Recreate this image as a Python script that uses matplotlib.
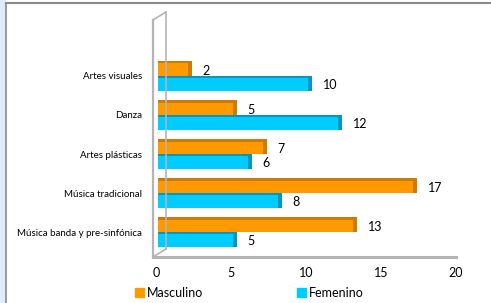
import matplotlib.pyplot as plt
from matplotlib.lines import Line2D
from matplotlib.patches import Patch, Rectangle
import numpy as np

# Datos
categorias = ['Artes visuales', 'Danza', 'Artes plásticas', 'Música tradicional',
              'Música banda y pre-sinfónica']
masculino = [2, 5, 7, 17, 13]
femenino = [10, 12, 6, 8, 5]
ticks_x = [0, 5, 10, 15, 20]

naranja = '#ff9900'
naranja_osc = '#cf7a00'
cian = '#00ccff'
cian_osc = '#0098c0'

plt.rcParams['font.family'] = ['Lato', 'DejaVu Sans']

W, H = 491, 303
fig = plt.figure(figsize=(W / 100, H / 100), dpi=100)

def px(x, y):
    return x / W, 1 - y / H

# Área de trazado
x0, x1 = 156, 456
y_top, y_bot = 12, 257
ax = fig.add_axes([x0 / W, 1 - y_bot / H, (x1 - x0) / W, (y_bot - y_top) / H])
ax.set_xlim(0, 20)
ax.set_ylim(4.64, -1.64)

pos = np.arange(len(categorias))
h = 0.38
pm = pos - 0.2
pf = pos + 0.19

# Barras con un poco de efecto 3D
ax.barh(pm, masculino, height=h, left=0.15, color=naranja, zorder=3)
ax.barh(pm - h / 2 + 0.035, masculino, height=0.07, left=0.15, color=naranja_osc, zorder=4)
ax.barh(pm, 0.22, height=h, left=np.array(masculino) + 0.15, color=naranja_osc, zorder=4)
ax.barh(pf, femenino, height=h, left=0.15, color=cian, zorder=3)
ax.barh(pf - h / 2 + 0.025, femenino, height=0.05, left=0.15, color=cian_osc, zorder=4)
ax.barh(pf, 0.22, height=h, left=np.array(femenino) + 0.15, color=cian_osc, zorder=4)

for p, v in zip(pm, masculino):
    ax.text(v + 1.1, p + 0.08, str(v), va='center', ha='left', fontsize=9)
for p, v in zip(pf, femenino):
    ax.text(v + 1.1, p + 0.05, str(v), va='center', ha='left', fontsize=9)

ax.set_yticks(pos)
ax.set_yticklabels(categorias, fontsize=7)
ax.set_xticks(ticks_x)
ax.set_xticklabels([str(t) for t in ticks_x], fontsize=9)
ax.tick_params(axis='y', length=0, pad=10)
ax.tick_params(axis='x', length=0, pad=7)
for s in ax.spines.values():
    s.set_visible(False)
ax.patch.set_alpha(0)

# Pared y piso
gris = '#b4b4b4'
for (xa, ya), (xb, yb), lw in [((153, 20), (153, 257), 1.6), ((166, 12), (166, 249), 1.2),
                               ((153, 20), (166, 12), 1.2), ((153, 257), (166, 249), 1.2)]:
    fig.add_artist(Line2D([px(xa, ya)[0], px(xb, yb)[0]], [px(xa, ya)[1], px(xb, yb)[1]],
                          color=gris, lw=lw, zorder=1))
fig.add_artist(Line2D([px(153, 257)[0], px(456, 257)[0]], [px(153, 257)[1]] * 2,
                      color=gris, lw=2.2, zorder=1))

# Bordes del marco
fig.add_artist(Rectangle((0, 0), 5 / W, 1, transform=fig.transFigure,
                         color='#dcedf9', zorder=0))
fig.add_artist(Line2D([5.5 / W] * 2, [0, 1 - 3 / H], color='#8a8a8a', lw=1.2))
fig.add_artist(Line2D([5.5 / W, 1], [1 - 3 / H] * 2, color='#8a8a8a', lw=1.5))

# Leyenda
handles = [Patch(color=naranja, label='Masculino'), Patch(color=cian, label='Femenino')]
fig.legend(handles=handles, loc='center', bbox_to_anchor=(0.508, 1 - 293 / H), ncol=2,
           frameon=False, fontsize=9, handlelength=0.7, handleheight=0.7,
           handletextpad=0.25, columnspacing=7.5)

fig.savefig('out.png', dpi=100)
